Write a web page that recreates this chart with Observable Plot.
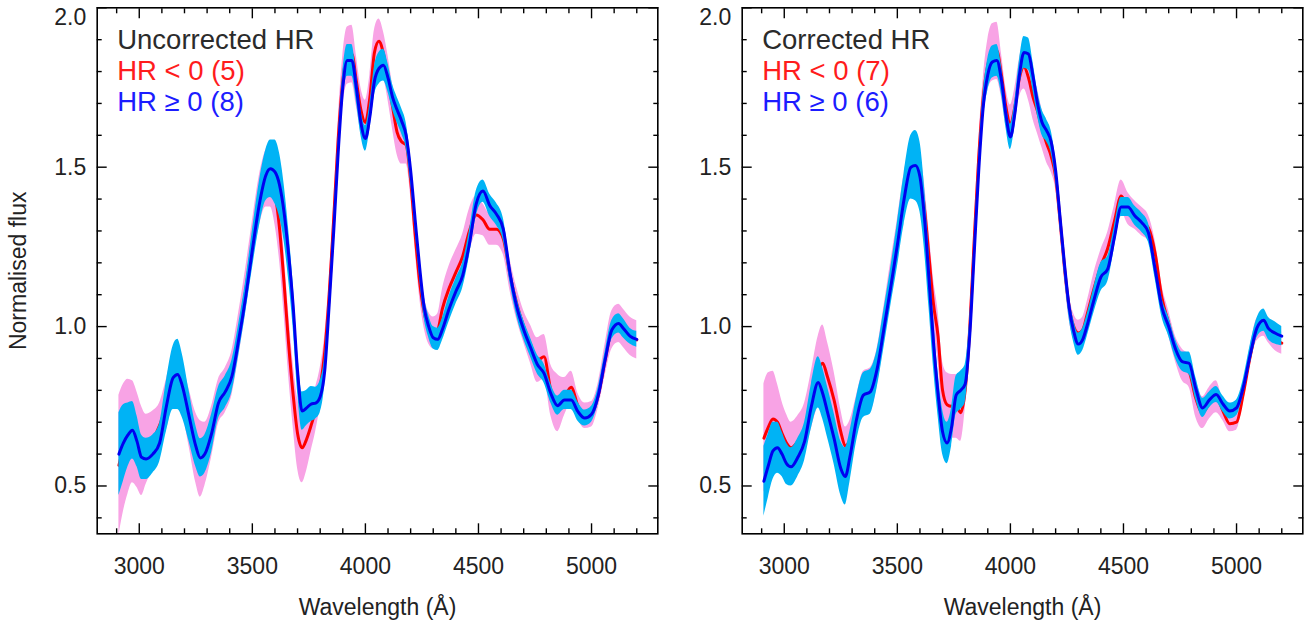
<!DOCTYPE html>
<html><head><meta charset="utf-8">
<script src="https://cdn.jsdelivr.net/npm/d3@7"></script>
<script src="https://cdn.jsdelivr.net/npm/@observablehq/plot@0.6"></script>
<style>
html,body{margin:0;padding:0;background:#fff;}
#wrap{position:relative;width:1311px;height:621px;overflow:hidden;background:#fff;}
#wrap > div{position:absolute;top:0;}
</style></head><body>
<div id="wrap"><div id="pl" style="left:0px"></div><div id="pr" style="left:660px"></div></div>
<script>
// ---------- data ----------
const wavelength = [
  2910, 2930, 2950, 2970, 2990, 3010, 3030, 3060, 3090, 3120,
  3150, 3170, 3190, 3220, 3250, 3270, 3290, 3320, 3350, 3380,
  3410, 3440, 3470, 3500, 3530, 3560, 3580, 3600, 3620, 3640,
  3660, 3680, 3700, 3720, 3740, 3760, 3780, 3800, 3820, 3840,
  3860, 3880, 3900, 3920, 3940, 3960, 3980, 4000, 4020, 4040,
  4060, 4080, 4100, 4120, 4140, 4160, 4180, 4200, 4220, 4240,
  4260, 4280, 4300, 4320, 4340, 4370, 4400, 4430, 4460, 4490,
  4520, 4550, 4580, 4610, 4640, 4670, 4700, 4730, 4760, 4790,
  4820, 4850, 4880, 4910, 4940, 4970, 5000, 5030, 5060, 5090,
  5120, 5140, 5170, 5200];

// Left panel: Uncorrected HR
const leftBlue = [
  0.600, 0.635, 0.660, 0.675, 0.640, 0.590, 0.585, 0.600, 0.635, 0.750,
  0.840, 0.850, 0.815, 0.720, 0.625, 0.588, 0.600, 0.665, 0.760, 0.795,
  0.845, 0.960, 1.090, 1.240, 1.380, 1.475, 1.495, 1.485, 1.445, 1.360,
  1.230, 1.070, 0.860, 0.735, 0.745, 0.757, 0.760, 0.780, 0.860, 1.070,
  1.300, 1.550, 1.750, 1.835, 1.835, 1.750, 1.640, 1.590, 1.660, 1.770,
  1.810, 1.820, 1.780, 1.720, 1.680, 1.645, 1.600, 1.490, 1.335, 1.185,
  1.060, 1.000, 0.965, 0.960, 0.990, 1.055, 1.110, 1.160, 1.260, 1.385,
  1.425, 1.380, 1.352, 1.305, 1.165, 1.060, 0.990, 0.935, 0.882, 0.853,
  0.790, 0.752, 0.770, 0.770, 0.733, 0.713, 0.725, 0.785, 0.895, 0.990,
  1.010, 0.995, 0.970, 0.960];
const leftBlueErr = [
  0.130, 0.120, 0.100, 0.090, 0.080, 0.070, 0.065, 0.060, 0.060, 0.080,
  0.100, 0.110, 0.100, 0.080, 0.065, 0.060, 0.060, 0.060, 0.050, 0.050,
  0.050, 0.050, 0.050, 0.060, 0.070, 0.080, 0.090, 0.100, 0.100, 0.090,
  0.080, 0.070, 0.065, 0.060, 0.055, 0.055, 0.050, 0.050, 0.045, 0.040,
  0.040, 0.040, 0.045, 0.050, 0.050, 0.045, 0.040, 0.040, 0.040, 0.045,
  0.050, 0.050, 0.045, 0.040, 0.040, 0.040, 0.040, 0.040, 0.035, 0.035,
  0.035, 0.035, 0.035, 0.035, 0.035, 0.040, 0.040, 0.040, 0.040, 0.040,
  0.035, 0.035, 0.035, 0.035, 0.030, 0.030, 0.030, 0.030, 0.030, 0.030,
  0.030, 0.030, 0.030, 0.030, 0.030, 0.025, 0.025, 0.025, 0.025, 0.030,
  0.030, 0.030, 0.025, 0.025];
const leftRed = [
  0.565, 0.620, 0.655, 0.670, 0.645, 0.610, 0.615, 0.645, 0.690, 0.755,
  0.835, 0.845, 0.810, 0.715, 0.620, 0.585, 0.600, 0.670, 0.765, 0.800,
  0.855, 0.975, 1.110, 1.260, 1.390, 1.465, 1.475, 1.420, 1.310, 1.140,
  0.950, 0.790, 0.665, 0.620, 0.647, 0.690, 0.740, 0.810, 0.920, 1.100,
  1.340, 1.590, 1.770, 1.850, 1.855, 1.770, 1.680, 1.640, 1.720, 1.860,
  1.895, 1.855, 1.780, 1.690, 1.610, 1.580, 1.570, 1.460, 1.290, 1.140,
  1.045, 0.995, 0.980, 0.990, 1.055, 1.120, 1.170, 1.220, 1.300, 1.350,
  1.335, 1.305, 1.305, 1.275, 1.160, 1.070, 1.000, 0.945, 0.895, 0.905,
  0.800, 0.760, 0.780, 0.810, 0.750, 0.720, 0.725, 0.785, 0.895, 0.990,
  1.010, 0.995, 0.970, 0.958];
const leftRedErr = [
  0.220, 0.200, 0.180, 0.160, 0.150, 0.140, 0.110, 0.090, 0.070, 0.080,
  0.080, 0.080, 0.080, 0.090, 0.110, 0.120, 0.100, 0.080, 0.070, 0.070,
  0.070, 0.070, 0.070, 0.070, 0.080, 0.090, 0.100, 0.100, 0.100, 0.100,
  0.100, 0.100, 0.110, 0.110, 0.100, 0.080, 0.070, 0.060, 0.050, 0.050,
  0.050, 0.060, 0.080, 0.090, 0.090, 0.080, 0.070, 0.070, 0.070, 0.070,
  0.070, 0.070, 0.070, 0.070, 0.070, 0.070, 0.060, 0.050, 0.050, 0.050,
  0.050, 0.050, 0.050, 0.050, 0.060, 0.070, 0.070, 0.070, 0.070, 0.060,
  0.050, 0.050, 0.050, 0.050, 0.050, 0.050, 0.050, 0.060, 0.070, 0.070,
  0.080, 0.090, 0.060, 0.050, 0.040, 0.040, 0.040, 0.040, 0.050, 0.060,
  0.060, 0.060, 0.060, 0.060];

// Right panel: Corrected HR
const rightBlue = [
  0.515, 0.565, 0.610, 0.620, 0.600, 0.570, 0.560, 0.590, 0.640, 0.750,
  0.825, 0.790, 0.735, 0.650, 0.555, 0.530, 0.590, 0.710, 0.785, 0.795,
  0.865, 0.990, 1.120, 1.255, 1.400, 1.500, 1.505, 1.470, 1.340, 1.150,
  0.950, 0.790, 0.670, 0.635, 0.685, 0.785, 0.800, 0.820, 0.970, 1.230,
  1.490, 1.690, 1.790, 1.830, 1.835, 1.775, 1.665, 1.595, 1.670, 1.790,
  1.860, 1.855, 1.785, 1.700, 1.640, 1.615, 1.580, 1.490, 1.340, 1.190,
  1.060, 0.985, 0.945, 0.960, 1.005, 1.085, 1.155, 1.180, 1.280, 1.375,
  1.375, 1.348, 1.327, 1.295, 1.180, 1.060, 1.000, 0.930, 0.890, 0.885,
  0.805, 0.745, 0.770, 0.787, 0.757, 0.735, 0.745, 0.810, 0.910, 0.995,
  1.020, 0.995, 0.980, 0.970];
const rightBlueErr = [
  0.110, 0.100, 0.090, 0.080, 0.070, 0.065, 0.060, 0.060, 0.060, 0.070,
  0.080, 0.080, 0.080, 0.080, 0.085, 0.090, 0.080, 0.070, 0.070, 0.070,
  0.060, 0.060, 0.060, 0.070, 0.080, 0.100, 0.110, 0.110, 0.100, 0.090,
  0.080, 0.070, 0.070, 0.065, 0.060, 0.060, 0.060, 0.060, 0.050, 0.045,
  0.045, 0.045, 0.050, 0.050, 0.050, 0.045, 0.040, 0.040, 0.040, 0.045,
  0.050, 0.050, 0.045, 0.040, 0.040, 0.035, 0.035, 0.035, 0.035, 0.035,
  0.035, 0.035, 0.035, 0.035, 0.035, 0.040, 0.045, 0.040, 0.035, 0.030,
  0.030, 0.030, 0.030, 0.030, 0.030, 0.030, 0.030, 0.030, 0.030, 0.035,
  0.035, 0.030, 0.025, 0.025, 0.025, 0.025, 0.025, 0.025, 0.030, 0.030,
  0.035, 0.035, 0.035, 0.030];
const rightRed = [
  0.650, 0.685, 0.710, 0.700, 0.665, 0.635, 0.620, 0.640, 0.680, 0.770,
  0.860, 0.885, 0.845, 0.770, 0.670, 0.625, 0.645, 0.725, 0.790, 0.800,
  0.870, 1.000, 1.140, 1.275, 1.410, 1.485, 1.490, 1.465, 1.370, 1.220,
  1.070, 0.970, 0.800, 0.755, 0.750, 0.750, 0.730, 0.800, 0.990, 1.270,
  1.530, 1.720, 1.820, 1.860, 1.865, 1.790, 1.690, 1.635, 1.690, 1.780,
  1.815, 1.780, 1.720, 1.675, 1.620, 1.575, 1.535, 1.470, 1.330, 1.180,
  1.060, 1.000, 0.980, 0.990, 1.040, 1.120, 1.190, 1.245, 1.330, 1.410,
  1.370, 1.350, 1.330, 1.310, 1.230, 1.090, 1.010, 0.930, 0.880, 0.860,
  0.775, 0.730, 0.760, 0.780, 0.735, 0.695, 0.700, 0.790, 0.905, 0.990,
  1.005, 0.985, 0.960, 0.948];
const rightRedErr = [
  0.170, 0.170, 0.150, 0.120, 0.100, 0.090, 0.080, 0.080, 0.080, 0.090,
  0.110, 0.120, 0.110, 0.090, 0.070, 0.060, 0.060, 0.060, 0.070, 0.070,
  0.060, 0.060, 0.060, 0.060, 0.070, 0.080, 0.080, 0.080, 0.080, 0.080,
  0.080, 0.080, 0.090, 0.100, 0.100, 0.100, 0.090, 0.060, 0.050, 0.050,
  0.050, 0.060, 0.080, 0.090, 0.090, 0.070, 0.060, 0.060, 0.060, 0.060,
  0.070, 0.070, 0.070, 0.070, 0.060, 0.060, 0.050, 0.040, 0.040, 0.040,
  0.040, 0.040, 0.040, 0.040, 0.040, 0.050, 0.050, 0.050, 0.050, 0.050,
  0.050, 0.045, 0.045, 0.040, 0.040, 0.040, 0.040, 0.040, 0.050, 0.050,
  0.060, 0.050, 0.050, 0.050, 0.030, 0.025, 0.025, 0.030, 0.030, 0.035,
  0.035, 0.035, 0.035, 0.035];

const leftLegend = ["Uncorrected HR", "HR < 0 (5)", "HR \u2265 0 (8)"];
const rightLegend = ["Corrected HR", "HR < 0 (7)", "HR \u2265 0 (6)"];
const xLabel = "Wavelength (\u00C5)";
const yLabel = "Normalised flux";

const xTicksMajor = [3000, 3500, 4000, 4500, 5000];
const xTicksMinor = [2900, 3100, 3200, 3300, 3400, 3600, 3700, 3800, 3900, 4100, 4200, 4300, 4400, 4600, 4700, 4800, 4900, 5100, 5200];
const yTicksMajor = [0.5, 1.0, 1.5, 2.0];
const yTicksMinor = [0.4, 0.6, 0.7, 0.8, 0.9, 1.1, 1.2, 1.3, 1.4, 1.6, 1.7, 1.8, 1.9];

// ---------- drawing ----------
const xDomain = [2814, 5293];
const yDomain = [0.35, 2.0];
const legendColors = ["#2b2b2b", "#ff1c1c", "#1c1cff"];
const fmt = d3.format(".1f");
const none = () => "";

function panel({red, redErr, blue, blueErr, legend, width, ml, mr, showYLabel}) {
  const rows = wavelength.map((w, i) => ({
    w, r: red[i], rlo: red[i] - redErr[i], rhi: red[i] + redErr[i],
    b: blue[i], blo: blue[i] - blueErr[i], bhi: blue[i] + blueErr[i]
  }));
  const tk = {stroke: "#000", strokeWidth: 1.4};
  const curve = "monotone-x";
  return Plot.plot({
    width, height: 621,
    marginLeft: ml, marginRight: mr, marginTop: 7.3, marginBottom: 87.7,
    style: {fontFamily: "'Liberation Sans', Arial, Helvetica, sans-serif", fontSize: "23px", color: "#222", background: "#fff", overflow: "visible"},
    x: {domain: xDomain, axis: null},
    y: {domain: yDomain, axis: null},
    marks: [
      Plot.areaY(rows, {x: "w", y1: "rlo", y2: "rhi", fill: "#f8a3e5", curve, clip: true}),
      Plot.lineY(rows, {x: "w", y: "r", stroke: "#ff0000", strokeWidth: 3, curve, clip: true}),
      Plot.areaY(rows, {x: "w", y1: "blo", y2: "bhi", fill: "#00b3f5", curve, clip: true}),
      Plot.lineY(rows, {x: "w", y: "b", stroke: "#0000f0", strokeWidth: 3, curve, clip: true}),
      // ticks (inward, all four sides)
      Plot.axisX(xTicksMajor, {anchor: "bottom", tickSize: -10, tickFormat: none, label: null, ...tk}),
      Plot.axisX(xTicksMinor, {anchor: "bottom", tickSize: -5, tickFormat: none, label: null, ...tk}),
      Plot.axisX(xTicksMajor, {anchor: "top", tickSize: -10, tickFormat: none, label: null, ...tk}),
      Plot.axisX(xTicksMinor, {anchor: "top", tickSize: -5, tickFormat: none, label: null, ...tk}),
      Plot.axisY(yTicksMajor, {anchor: "left", tickSize: -10, tickFormat: none, label: null, ...tk}),
      Plot.axisY(yTicksMinor, {anchor: "left", tickSize: -5, tickFormat: none, label: null, ...tk}),
      Plot.axisY(yTicksMajor, {anchor: "right", tickSize: -10, tickFormat: none, label: null, ...tk}),
      Plot.axisY(yTicksMinor, {anchor: "right", tickSize: -5, tickFormat: none, label: null, ...tk}),
      // tick labels and axis titles
      Plot.axisX(xTicksMajor, {anchor: "bottom", tickSize: 0, tickPadding: 24, tickFormat: d => String(d), fill: "#222",
        label: xLabel, labelAnchor: "center", labelOffset: 81, labelArrow: "none"}),
      Plot.axisY(yTicksMajor.filter(v => v < 2), {anchor: "left", tickSize: 0, tickPadding: 11, tickFormat: fmt, fill: "#222",
        label: showYLabel ? yLabel : null, labelAnchor: "center", labelOffset: 88, labelArrow: "none"}),
      Plot.axisY([2.0], {anchor: "left", tickSize: 0, tickPadding: 11, tickFormat: fmt, fill: "#222", dy: 10, label: null}),
      Plot.frame({stroke: "#000", strokeWidth: 1.6}),
      // legend text
      ...legend.map((t, i) => Plot.text([t], {text: d => d, frameAnchor: "top-left", textAnchor: "start", lineAnchor: "top",
        dx: 20, dy: 22 + i * 31, fill: legendColors[i], fontSize: 27.5}))
    ]
  });
}

document.getElementById("pl").append(panel({red: leftRed, redErr: leftRedErr, blue: leftBlue, blueErr: leftBlueErr,
  legend: leftLegend, width: 660, ml: 96.7, mr: 2.7, showYLabel: true}));
document.getElementById("pr").append(panel({red: rightRed, redErr: rightRedErr, blue: rightBlue, blueErr: rightBlueErr,
  legend: rightLegend, width: 651, ml: 81.7, mr: 8.7, showYLabel: false}));
</script>
</body></html>
